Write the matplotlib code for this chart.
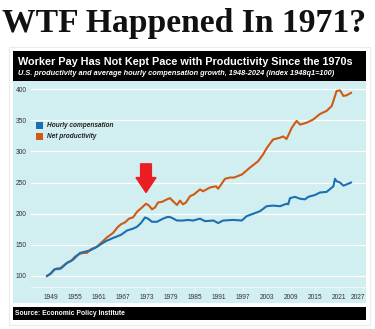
import matplotlib
matplotlib.use("Agg")
import matplotlib.pyplot as plt
from matplotlib.patches import Rectangle, FancyArrow
import matplotlib.transforms as mtransforms

# quarterly-ish readings (index 1948q1 = 100)
prod_years = [1948.0, 1949.0, 1950.0, 1951.0, 1952.0, 1953.0, 1954.0, 1955.0, 1956.0, 1957.0,
              1958.0, 1959.0, 1960.5, 1962.0, 1963.0, 1964.5, 1965.75, 1966.5, 1967.5, 1968.5,
              1969.5, 1970.5, 1971.75, 1972.75, 1973.5, 1974.25, 1975.0, 1975.75, 1976.75, 1978.0,
              1978.75, 1979.5, 1980.5, 1981.25, 1982.0, 1982.75, 1983.75, 1984.75, 1986.25, 1987.0,
              1988.75, 1990.25, 1990.8, 1992.5, 1993.75, 1994.75, 1996.75, 1998.75, 2000.75, 2002.0,
              2003.0, 2004.5, 2006.25, 2007.0, 2007.9, 2009.2, 2010.4, 2011.25, 2012.9, 2014.5,
              2016.25, 2017.9, 2019.2, 2020.0, 2020.4, 2021.25, 2022.1, 2022.9, 2024.0]
prod_vals = [100, 104, 111, 111, 116, 121, 124, 131, 135, 137,
             137, 143, 147, 156, 162, 169, 179, 183, 186, 192,
             194, 203, 210, 216, 213, 207, 210, 218, 219, 223,
             225, 220, 214, 221, 215, 218, 228, 231, 239, 236,
             242, 244, 240, 256, 258, 258, 263, 274, 284, 295,
             306, 319, 322, 324, 320, 338, 349, 343, 346, 351,
             360, 365, 373, 389, 397, 398, 389, 390, 394]

comp_years = [1948.0, 1948.75, 1949.75, 1950.5, 1951.5, 1953.0, 1954.5, 1956.25, 1957.5, 1958.75,
              1960.0, 1961.25, 1962.75, 1964.5, 1966.5, 1968.0, 1969.5, 1970.5, 1971.5, 1972.5,
              1973.25, 1974.25, 1975.5, 1977.0, 1978.25, 1979.0, 1980.5, 1982.0, 1983.25, 1984.5,
              1986.25, 1987.5, 1989.6, 1990.8, 1992.0, 1994.6, 1996.7, 1997.9, 1999.6, 2001.25,
              2002.9, 2004.5, 2006.25, 2007.9, 2008.3, 2008.75, 2010.0, 2011.25, 2012.5, 2013.3,
              2015.0, 2016.25, 2017.9, 2019.6, 2020.0, 2020.4, 2021.25, 2022.1, 2022.9, 2024.0]
comp_vals = [100, 103, 110, 112, 112, 121, 126, 137, 139, 141,
             145, 150, 156, 161, 166, 173, 176, 179, 185, 194,
             192, 187, 187, 192, 195, 194, 189, 189, 190, 189,
             192, 188, 189, 185, 189, 190, 189, 196, 200, 204,
             212, 213, 212, 216, 215, 225, 227, 224, 223, 227,
             230, 234, 235, 244, 256, 252, 250, 245, 247, 250]

x_ticks = [1949, 1955, 1961, 1967, 1973, 1979, 1985, 1991, 1997, 2003, 2009, 2015, 2021, 2027]
y_ticks = [100, 150, 200, 250, 300, 350, 400]

title = "WTF Happened In 1971?"
chart_title = "Worker Pay Has Not Kept Pace with Productivity Since the 1970s"
chart_sub = "U.S. productivity and average hourly compensation growth, 1948-2024 (index 1948q1=100)"
source = "Source: Economic Policy Institute"
labels = ["Hourly compensation", "Net productivity"]

BLUE = "#1c6fb3"
ORANGE = "#cf5a12"
CYAN = "#d1eef1"
W, H = 375, 329

plt.rcParams['font.family'] = ['Liberation Sans', 'DejaVu Sans']
fig = plt.figure(figsize=(W / 100, H / 100), dpi=100)
fig.patch.set_facecolor("white")

def box(x0, y0, x1, y1):
    # pixel box (top-left origin) -> figure fraction rect
    return (x0 / W, 1 - y1 / H, (x1 - x0) / W, (y1 - y0) / H)

# card outline + panels behind the chart
r = box(9, 47, 370, 325)
fig.patches.append(Rectangle((r[0], r[1]), r[2], r[3], transform=fig.transFigure,
                             facecolor="white", edgecolor="#ececec", lw=0.8, zorder=-6))
for (x0, y0, x1, y1), col in [((13, 51, 366, 81), "black"),
                              ((13, 81, 366, 303), CYAN),
                              ((13, 307, 366, 320), "black")]:
    r = box(x0, y0, x1, y1)
    fig.patches.append(Rectangle((r[0], r[1]), r[2], r[3], transform=fig.transFigure,
                                 facecolor=col, edgecolor="none", zorder=-5))

fig.text(2 / W, 1 - 32 / H, title, family="Liberation Serif", fontweight="bold",
         fontsize=24.2, color="#111111", va="baseline", ha="left")
fig.text(18 / W, 1 - 62 / H, chart_title, color="white", fontweight="bold",
         fontsize=7.8, va="center", ha="left")
fig.text(18 / W, 1 - 73.5 / H, chart_sub, color="white", fontweight="bold", style="italic",
         fontsize=5.3, va="center", ha="left")
fig.text(15 / W, 1 - 313.5 / H, source, color="white", fontweight="bold",
         fontsize=4.9, va="center", ha="left")

ax = fig.add_axes(box(31, 81, 366, 287))
ax.set_zorder(2)
ax.set_facecolor(CYAN)
ax.set_xlim(1944, 2027.75)
ax.set_ylim(82.3, 413)

ax.plot(prod_years, prod_vals, color=ORANGE, lw=1.5, zorder=3)
ax.plot(comp_years, comp_vals, color=BLUE, lw=1.5, zorder=4)

ax.set_yticks(y_ticks)
ax.set_xticks(x_ticks)
ax.grid(axis="y", color="white", lw=0.9)
ax.set_axisbelow(True)
for s in ["top", "right", "left"]:
    ax.spines[s].set_visible(False)
ax.spines["bottom"].set_color("#eef8f9")
ax.tick_params(axis="y", length=0, labelsize=4.8, labelcolor="#333333", pad=3)
ax.tick_params(axis="x", length=3, color="#eef8f9", labelsize=4.8, labelcolor="#333333", pad=2)
# last year label is squeezed against the edge in the original
lab = ax.get_xticklabels()[-1]
lab.set_transform(lab.get_transform() + mtransforms.ScaledTranslation(-0.05, 0, fig.dpi_scale_trans))

# legend as squares + text
ax.add_patch(Rectangle((1945.2, 336), 1.7, 11, facecolor=BLUE, edgecolor="none", zorder=5))
ax.add_patch(Rectangle((1945.2, 318.5), 1.7, 11, facecolor=ORANGE, edgecolor="none", zorder=5))
ax.text(1947.9, 341.5, labels[0], fontsize=4.7, fontweight="bold", style="italic",
        color="#222222", va="center")
ax.text(1947.9, 324, labels[1], fontsize=4.7, fontweight="bold", style="italic",
        color="#222222", va="center")

# red arrow pointing at the 1971-73 break
ax.add_patch(FancyArrow(1972.75, 280, 0, -46, width=2.7, head_width=5.0, head_length=24,
                        length_includes_head=True, color="#ec1c24", zorder=6))

fig.savefig("out.png", dpi=100)
